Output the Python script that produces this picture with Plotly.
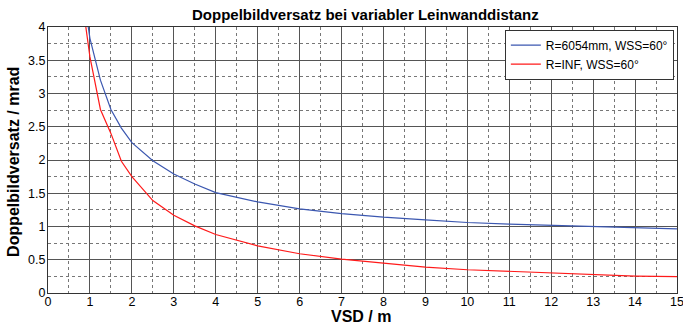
import plotly.graph_objects as go

# Screen distance (VSD) in metres
vsd = [0.75, 1, 1.25, 1.5, 1.75, 2, 2.5, 3, 3.5, 4, 5, 6, 7, 8, 9, 10, 11, 12, 13, 14, 15]

# Double-image offset in mrad for both screen radii
offset_r6054 = [4.9, 3.83, 3.2, 2.76, 2.48, 2.26, 1.99, 1.79, 1.64, 1.51, 1.37, 1.266, 1.195,
                1.14, 1.10, 1.06, 1.035, 1.015, 1.0, 0.98, 0.965]
offset_rinf = [4.7, 3.55, 2.76, 2.40, 1.98, 1.75, 1.39, 1.17, 1.01, 0.88, 0.71, 0.59, 0.51,
               0.45, 0.39, 0.35, 0.325, 0.30, 0.275, 0.255, 0.245]

series_names = ["R=6054mm, WSS=60°", "R=INF, WSS=60°"]
series_colors = ["#3b57b0", "#ff1a1a"]

x_ticks = list(range(0, 16))
y_ticks = [0, 0.5, 1, 1.5, 2, 2.5, 3, 3.5, 4]

x_title = "VSD / m"
y_title = "Doppelbildversatz / mrad"
chart_title = "Doppelbildversatz bei variabler Leinwanddistanz"

font = "Liberation Sans, Arial, sans-serif"

fig = go.Figure()
for name, ys, col in zip(series_names, [offset_r6054, offset_rinf], series_colors):
    fig.add_trace(go.Scatter(x=vsd, y=ys, mode="lines", name=name,
                             line=dict(color=col, width=1.2)))

axis_common = dict(
    showline=True, linecolor="#333333", linewidth=1, mirror=True,
    showgrid=True, gridcolor="#555555", gridwidth=1, automargin=False,
    zeroline=False, ticks="", ticklabeloverflow="allow",
    tickfont=dict(family=font, size=12.5, color="#000000"),
)

fig.update_xaxes(
    range=[0, 15], tickvals=x_ticks, ticktext=[str(v) for v in x_ticks],
    minor=dict(dtick=0.5, showgrid=True, griddash="dot", gridcolor="#777777", gridwidth=1),
    ticklabelstandoff=-3,
    **axis_common,
)
fig.update_yaxes(
    range=[0, 4], tickvals=y_ticks, ticktext=[f"{v:g}" for v in y_ticks],
    minor=dict(dtick=0.25, showgrid=True, griddash="dot", gridcolor="#777777", gridwidth=1),
    ticklabelstandoff=-1,
    **axis_common,
)

# Axis titles placed as annotations for precise positioning
title_font = dict(family=font, size=16, color="#000000")
fig.add_annotation(text=f"<b>{x_title}</b>", xref="paper", yref="paper",
                   x=0.498, y=-0.087, xanchor="center", yanchor="middle",
                   showarrow=False, font=title_font)
fig.add_annotation(text=f"<b>{y_title}</b>", xref="paper", yref="paper",
                   x=-0.056, y=0.492, xanchor="center", yanchor="middle",
                   textangle=-90, showarrow=False, font=title_font)

fig.update_layout(
    width=683, height=326,
    margin=dict(l=48, r=6, t=27, b=33),
    paper_bgcolor="white", plot_bgcolor="white",
    title=dict(text=f"<b>{chart_title}</b>",
               font=dict(family=font, size=15, color="#000000"),
               x=0.535, xanchor="center", y=0.955, yanchor="middle"),
    legend=dict(x=0.995, xanchor="right", y=0.99, yanchor="top",
                bgcolor="white", bordercolor="#333333", borderwidth=1,
                font=dict(family=font, size=12, color="#000000"),
                tracegroupgap=0, itemwidth=30),
    showlegend=True,
)

fig.write_html("out.html")
